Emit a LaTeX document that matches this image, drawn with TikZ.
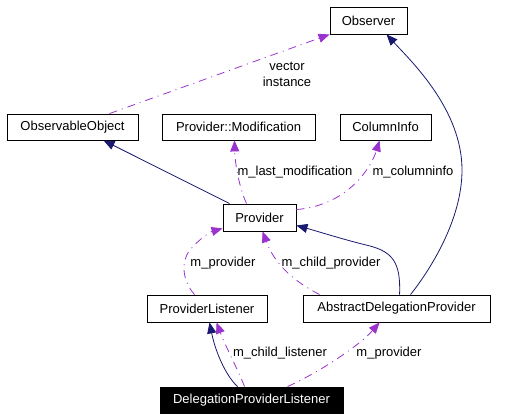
\documentclass[tikz,border=0pt]{standalone}
\usepackage{fontspec}
\setmainfont{Liberation Sans}
\usetikzlibrary{arrows.meta,calc}
\definecolor{inh}{HTML}{191970}
\definecolor{use}{HTML}{9A32CD}
\begin{document}
\begin{tikzpicture}[x=1pt,y=-1pt,
  cls/.style={draw=black,line width=0.9pt,inner sep=0pt,minimum height=27pt,font=\fontsize{13}{15}\selectfont},
  inhline/.style={draw=inh,line width=0.8pt,-{Triangle[length=11pt,width=9pt,fill=inh]}},
  useline/.style={draw=use,line width=0.8pt,dash pattern=on 8pt off 5pt on 1pt off 5pt,-{Triangle[length=11pt,width=9pt,fill=use]}},
  lbl/.style={font=\fontsize{13}{16}\selectfont,inner sep=0pt,align=center}]
\useasboundingbox (0,0) rectangle (511,419);
% nodes
\node[cls,minimum width=77pt] (Observer) at (368.5,20.5) {Observer};
\node[cls,minimum width=131pt,minimum height=26pt] (ObservableObject) at (72.5,127) {ObservableObject};
\node[cls,minimum width=153pt,minimum height=26pt] (Modification) at (238.5,127) {Provider::Modification};
\node[cls,minimum width=91pt,minimum height=26pt] (ColumnInfo) at (385.5,127) {ColumnInfo};
\node[cls,minimum width=73pt] (Provider) at (259.5,217.5) {Provider};
\node[cls,minimum width=120pt] (ProviderListener) at (207,308.5) {ProviderListener};
\node[cls,minimum width=187pt] (ADP) at (396.5,308.5) {AbstractDelegationProvider};
\node[cls,minimum width=183pt,minimum height=26pt,fill=black,text=white] (DPL) at (251.5,400) {DelegationProviderListener};
% edges
\draw[useline] ($(ObservableObject.north west)+(103,0)$) -- (Observer.south west);
\node[lbl] (lvec) at (287,74) {vector\\instance};
\draw[inhline] ($(Provider.north west)+(7,0)$) -- ($(ObservableObject.south west)+(97,0)$);
\draw[useline] ($(Provider.north west)+(24,0)$) .. controls (240,190) and (235,165) .. ($(Modification.south west)+(73,0)$);
\node[lbl] (llast) at (295,172) {m\_last\_modification};
\draw[useline] ($(Provider.north east)+(0,6)$) .. controls (350,205) and (372,165) .. ($(ColumnInfo.south west)+(40,0)$);
\node[lbl] (lcol) at (413,172) {m\_columninfo};
\draw[inhline] ($(ADP.north west)+(97,0)$) .. controls (401,262) and (392,252) .. (370,246) .. controls (345,240) and (320,232) .. ($(Provider.south east)+(0,-6)$);
\draw[inhline] ($(ADP.north west)+(108,0)$) .. controls (430,270) and (462,220) .. (462,170) .. controls (462,110) and (412,62) .. ($(Observer.south west)+(57,0)$);
\draw[useline] ($(ProviderListener.north west)+(48,0)$) .. controls (183,282) and (180,262) .. (190,250) .. controls (198,240) and (210,232) .. ($(Provider.south west)+(0,-3)$);
\node[lbl] (lprov1) at (223,263) {m\_provider};
\draw[useline] ($(ADP.north west)+(17,0)$) .. controls (295,282) and (275,265) .. ($(Provider.south west)+(40,0)$);
\node[lbl] (lchildp) at (331,263) {m\_child\_provider};
\draw[inhline] ($(DPL.north west)+(78,0)$) .. controls (225,375) and (215,350) .. ($(ProviderListener.south west)+(63,0)$);
\draw[useline] ($(DPL.north west)+(85,0)$) .. controls (238,370) and (225,345) .. ($(ProviderListener.south west)+(70,0)$);
\node[lbl] (lchildl) at (280,353) {m\_child\_listener};
\draw[useline] ($(DPL.north west)+(128,0)$) .. controls (320,372) and (360,345) .. ($(ADP.south west)+(77,0)$);
\node[lbl] (lprov2) at (389,353) {m\_provider};
\end{tikzpicture}
\end{document}
